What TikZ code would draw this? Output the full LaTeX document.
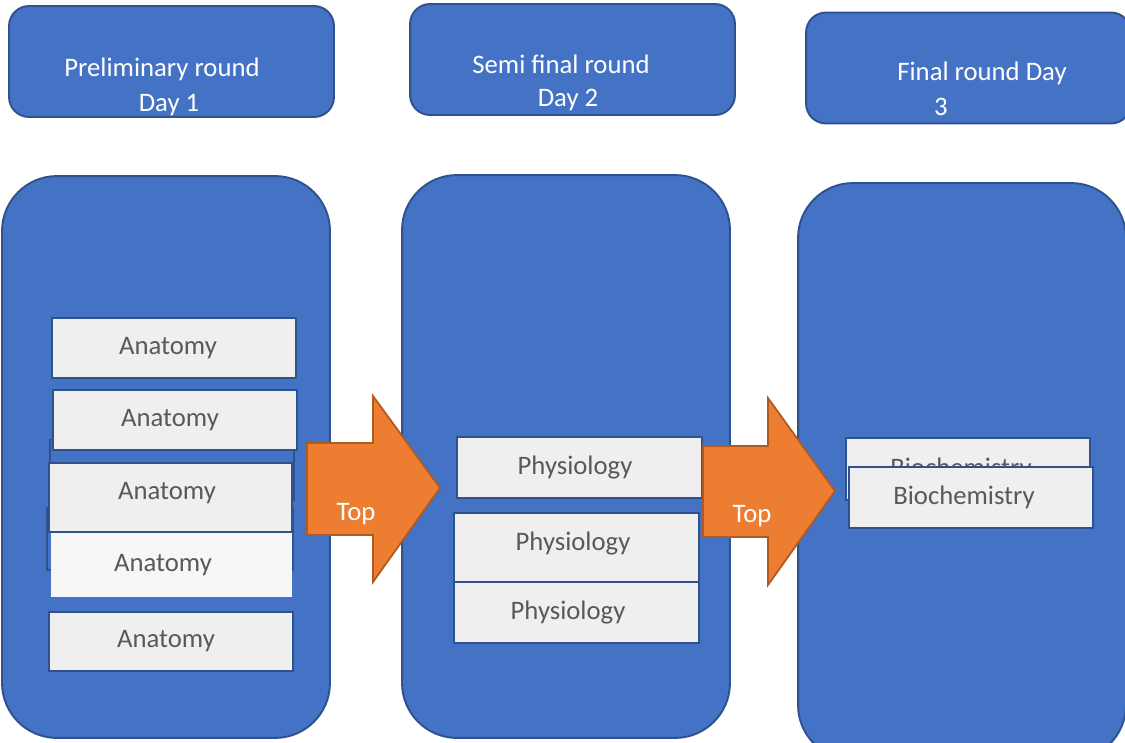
\documentclass[tikz,border=0pt]{standalone}
\usepackage{fontspec}
\setmainfont{Carlito}
\definecolor{boxblue}{HTML}{4472C4}
\definecolor{edgeblue}{HTML}{2F528F}
\definecolor{boxgray}{HTML}{EFEFEF}
\definecolor{textgray}{HTML}{595959}
\definecolor{arroworange}{HTML}{ED7D31}
\definecolor{arrowedge}{HTML}{AE5A21}
\tikzset{
  every node/.style={font=\fontsize{15.2}{18}\selectfont, inner sep=0pt},
  headbox/.style={draw=edgeblue, fill=boxblue, line width=1.1pt, rounded corners=0.4cm, minimum width=6.5cm, minimum height=2.22cm},
  column/.style={draw=edgeblue, fill=boxblue, line width=1.1pt, rounded corners=1.1cm, minimum width=6.56cm},
  subject/.style={draw=edgeblue, fill=boxgray, line width=1.2pt, text=textgray, minimum width=4.88cm},
  push/.style={execute at end node={\hspace*{#1}}},
  ghost/.style={draw=edgeblue, line width=1.2pt},
  bigarrow/.style={draw=arrowedge, fill=arroworange, line width=1pt},
  headtext/.style={text=white},
  arrowtext/.style={text=white}
}
\begin{document}
\begin{tikzpicture}[x=0.02cm,y=-0.02cm]
  \useasboundingbox (0,0) rectangle (1125,743);
  \clip (0,0) rectangle (1125,743);

  \node[headbox] (head1) at (171.5,61.5) {};
  \node[headbox] (head2) at (572.5,59.5) {};
  \node[headbox] (head3) at (968.5,68) {};
  \node[headtext] (head1a) at (162,69) {Preliminary round};
  \node[headtext] (head1b) at (169,105) {Day 1};
  \node[headtext] (head2a) at (561,64) {Semi final round};
  \node[headtext] (head2b) at (568,100) {Day 2};
  \node[headtext] (head3a) at (982,73) {Final round Day};
  \node[headtext] (head3b) at (941,107) {3};

  \node[column, minimum height=11.24cm] (col1) at (166,457) {};
  \node[column, minimum height=11.26cm] (col2) at (566,456.5) {};
  \node[column, minimum height=11.54cm] (col3) at (962,471.5) {};

  \draw[ghost] (50,440) rectangle (294,500);
  \draw[ghost] (47,508) rectangle (293,570);
  \node[subject, push=0.34cm, draw=none, fill=boxgray!50!white, minimum width=4.82cm, minimum height=1.28cm] (anat4) at (171.5,565) {Anatomy};
  \node[subject, push=0.14cm, minimum width=4.86cm, minimum height=1.38cm, text depth=0.25cm] (anat3) at (170.5,497.5) {Anatomy};
  \node[subject, push=0.2cm, minimum height=1.2cm] (anat2) at (175,420) {Anatomy};
  \node[subject, push=0.24cm, minimum height=1.2cm] (anat1) at (174,348) {Anatomy};
  \node[subject, push=0.2cm, minimum height=1.18cm] (anat5) at (171,641.5) {Anatomy};

  \node[subject, push=0.18cm, minimum width=4.9cm, minimum height=1.22cm] (phys1) at (579.5,467.5) {Physiology};
  \node[subject, push=0.14cm, minimum width=4.9cm, minimum height=1.38cm, text depth=0.25cm] (phys2) at (576.5,547.5) {Physiology};
  \node[subject, push=0.34cm, minimum width=4.9cm, minimum height=1.22cm] (phys3) at (576.5,612.5) {Physiology};

  \node[subject, push=0.28cm, minimum height=1.24cm] (bio1) at (968,469) {Biochemistry};
  \node[subject, push=0.28cm, minimum height=1.22cm] (bio2) at (971,497.5) {Biochemistry};

  \draw[bigarrow] (307,443) -- (373,443) -- (373,396) -- (440,488) -- (373,582) -- (373,535) -- (307,535) -- cycle;
  \node[arrowtext] (top1) at (356,514) {Top};
  \draw[bigarrow] (703,446) -- (768,446) -- (768,398) -- (835,491) -- (768,585) -- (768,537) -- (703,537) -- cycle;
  \node[arrowtext] (top2) at (752,516) {Top};
\end{tikzpicture}
\end{document}
